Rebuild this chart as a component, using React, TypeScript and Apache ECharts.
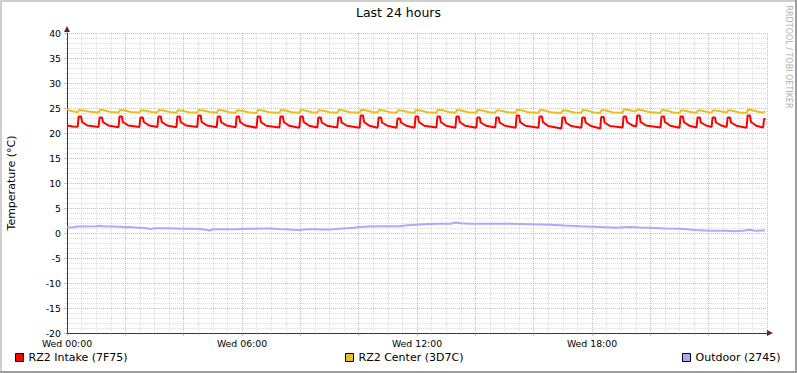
import React, { useEffect, useRef } from "react";
import * as echarts from "echarts";

// ---- data (x = minutes since Wed 00:00, y = °C) ----
const seriesNames = ["RZ2 Intake (7F75)", "RZ2 Center (3D7C)", "Outdoor (2745)"];
const seriesColors = ["#FF0000", "#E8C020", "#AAAAF8"];

const xTickMinutes = [0, 360, 720, 1080];
const xTickLabels = ["Wed 00:00", "Wed 06:00", "Wed 12:00", "Wed 18:00"];

const intakeData = [
  [0, 21.5], [12, 21.3],
  [22, 21.25], [24, 23.3], [29, 23.3], [31, 22.2], [42, 21.5],
  [65, 21.2], [67, 23.1], [72, 23.1], [74, 22.2], [85, 21.5],
  [106, 21.15], [108, 23.3], [113, 23.3], [115, 22.2], [126, 21.5],
  [149, 21.2], [151, 23.1], [156, 23.1], [158, 22.2], [169, 21.5],
  [186, 21.2], [188, 23.3], [193, 23.3], [195, 22.2], [206, 21.5],
  [225, 21.15], [227, 23.3], [232, 23.3], [234, 22.2], [245, 21.5],
  [268, 21.2], [270, 23.5], [275, 23.5], [277, 22.2], [288, 21.5],
  [308, 21.15], [310, 23.3], [315, 23.3], [317, 22.2], [328, 21.5],
  [347, 21.15], [349, 23.3], [354, 23.3], [356, 22.2], [367, 21.5],
  [390, 21.05], [392, 23.3], [397, 23.3], [399, 22.2], [410, 21.45],
  [437, 21.1], [439, 23.3], [444, 23.3], [446, 22.2], [457, 21.45],
  [478, 21.05], [480, 23.3], [485, 23.3], [487, 22.2], [498, 21.45],
  [515, 21.1], [517, 23.1], [522, 23.1], [524, 22.1], [535, 21.45],
  [556, 21.1], [558, 23.1], [563, 23.1], [565, 22.1], [576, 21.45],
  [602, 21.05], [604, 23.5], [609, 23.5], [611, 22.2], [622, 21.45],
  [639, 21.05], [641, 23.1], [646, 23.1], [648, 22.1], [659, 21.45],
  [678, 21.05], [680, 22.9], [685, 22.9], [687, 22.1], [698, 21.45],
  [715, 21.05], [717, 23.3], [722, 23.3], [724, 22.2], [735, 21.45],
  [760, 21.1], [762, 23.3], [767, 23.3], [769, 22.2], [780, 21.45],
  [799, 21.05], [801, 23.3], [806, 23.3], [808, 22.2], [819, 21.45],
  [842, 21.05], [844, 23.1], [849, 23.1], [851, 22.1], [862, 21.45],
  [881, 21.1], [883, 23.1], [888, 23.1], [890, 22.1], [901, 21.45],
  [923, 21.05], [925, 23.5], [930, 23.5], [932, 22.2], [943, 21.45],
  [970, 21.05], [972, 23.3], [977, 23.3], [979, 22.2], [990, 21.4],
  [1017, 20.9], [1019, 23.1], [1024, 23.1], [1026, 22.1], [1037, 21.4],
  [1058, 21.05], [1060, 23.1], [1065, 23.1], [1067, 22.1], [1078, 21.4],
  [1097, 20.9], [1099, 23.2], [1104, 23.2], [1106, 22.1], [1117, 21.4],
  [1143, 21.1], [1145, 23.3], [1150, 23.3], [1152, 22.2], [1163, 21.5],
  [1171, 21.3], [1173, 23.5], [1178, 23.5], [1180, 22.2], [1191, 21.5],
  [1221, 21.1], [1223, 23.3], [1228, 23.3], [1230, 22.2], [1241, 21.45],
  [1260, 21.05], [1262, 23.3], [1267, 23.3], [1269, 22.2], [1280, 21.45],
  [1295, 21.1], [1297, 23.1], [1302, 23.1], [1304, 22.1], [1315, 21.5],
  [1326, 21.2], [1328, 23.1], [1333, 23.1], [1335, 22.1], [1346, 21.5],
  [1357, 21.2], [1359, 23.1], [1364, 23.1], [1366, 22.1], [1377, 21.45],
  [1398, 21.05], [1400, 23.5], [1405, 23.5], [1407, 22.2], [1418, 21.45],
  [1432, 21.1], [1434, 22.8], [1437, 22.8],
];

const centerData = [
  [0, 24.8], [6, 24.45], [15, 24.3],
  [22, 24.15], [25, 24.6], [34, 24.5], [48, 24.25],
  [65, 24.1], [68, 24.65], [77, 24.5], [91, 24.2],
  [106, 24.1], [109, 24.6], [118, 24.5], [132, 24.2],
  [149, 24.1], [152, 24.55], [161, 24.45], [175, 24.2],
  [186, 24.1], [189, 24.6], [198, 24.5], [212, 24.2],
  [225, 24.05], [228, 24.55], [237, 24.45], [251, 24.15],
  [268, 24.05], [271, 24.6], [280, 24.5], [294, 24.2],
  [308, 24.05], [311, 24.6], [320, 24.5], [334, 24.15],
  [347, 24.05], [350, 24.55], [359, 24.45], [373, 24.15],
  [390, 24.0], [393, 24.6], [402, 24.5], [416, 24.15],
  [437, 24.05], [440, 24.6], [449, 24.5], [463, 24.15],
  [478, 24.05], [481, 24.6], [490, 24.5], [504, 24.15],
  [515, 24.05], [518, 24.55], [527, 24.45], [541, 24.15],
  [556, 24.05], [559, 24.6], [568, 24.5], [582, 24.15],
  [602, 24.05], [605, 24.65], [614, 24.55], [628, 24.2],
  [639, 24.1], [642, 24.6], [651, 24.5], [665, 24.15],
  [678, 24.05], [681, 24.55], [690, 24.45], [704, 24.15],
  [715, 24.05], [718, 24.6], [727, 24.5], [741, 24.15],
  [760, 24.05], [763, 24.65], [772, 24.55], [786, 24.2],
  [799, 24.05], [802, 24.6], [811, 24.5], [825, 24.15],
  [842, 24.05], [845, 24.6], [854, 24.5], [868, 24.15],
  [881, 24.05], [884, 24.55], [893, 24.45], [907, 24.15],
  [923, 24.05], [926, 24.65], [935, 24.55], [949, 24.15],
  [970, 24.05], [973, 24.6], [982, 24.5], [996, 24.15],
  [1017, 24.0], [1020, 24.55], [1029, 24.45], [1043, 24.1],
  [1058, 24.05], [1061, 24.6], [1070, 24.5], [1084, 24.1],
  [1097, 24.0], [1100, 24.6], [1109, 24.5], [1123, 24.1],
  [1143, 24.05], [1146, 24.75], [1155, 24.6], [1169, 24.3],
  [1174, 24.7], [1183, 24.55], [1197, 24.2],
  [1221, 24.0], [1224, 24.6], [1233, 24.5], [1247, 24.1],
  [1260, 24.0], [1263, 24.55], [1272, 24.45], [1286, 24.15],
  [1295, 24.05], [1298, 24.55], [1307, 24.45], [1321, 24.15],
  [1326, 24.1], [1329, 24.55], [1338, 24.45], [1352, 24.2],
  [1357, 24.1], [1360, 24.55], [1369, 24.45], [1383, 24.1],
  [1398, 24.0], [1401, 24.7], [1410, 24.55], [1424, 24.2],
  [1432, 24.1], [1436, 24.35],
];

const outdoorData = [
  [0, 1.1], [14, 1.15], [18, 1.3], [60, 1.35], [68, 1.45], [72, 1.35], [95, 1.3],
  [110, 1.25], [119, 1.15], [130, 1.2], [140, 1.1], [160, 1.0], [171, 0.8],
  [180, 0.95], [200, 0.95], [222, 0.9], [240, 0.85], [260, 0.85], [274, 0.8],
  [288, 0.6], [294, 0.5], [300, 0.75], [330, 0.75], [346, 0.75], [370, 0.85],
  [387, 0.85], [405, 0.9], [418, 0.9], [435, 0.8], [448, 0.75], [465, 0.65],
  [479, 0.6], [495, 0.75], [510, 0.75], [525, 0.7], [541, 0.7], [560, 0.85],
  [590, 1.05], [603, 1.2], [620, 1.3], [650, 1.35], [685, 1.35], [700, 1.55],
  [726, 1.7], [745, 1.8], [767, 1.85], [790, 1.85], [800, 2.1], [810, 1.95],
  [829, 1.85], [870, 1.85], [911, 1.85], [952, 1.75], [994, 1.65], [1024, 1.5],
  [1055, 1.35], [1096, 1.2], [1131, 1.05], [1145, 1.15], [1158, 1.2], [1178, 1.1],
  [1199, 1.05], [1230, 0.9], [1261, 0.85], [1292, 0.6], [1323, 0.45], [1354, 0.45],
  [1374, 0.35], [1390, 0.45], [1405, 0.65], [1415, 0.45], [1436, 0.5],
];

const FONT = "DejaVu Sans";
const MAJOR_GRID = "rgba(222,80,80,0.45)";
const MINOR_GRID = "rgba(140,140,140,0.3)";
const AXIS_COLOR = "#5a2a2a";

export default function App() {
  const ref = useRef<HTMLDivElement>(null);

  useEffect(() => {
    if (!ref.current) return;
    const chart = echarts.init(ref.current, undefined, { renderer: "svg" });
    const allData = [intakeData, centerData, outdoorData];
    const legendLefts = [15, 345, 682];

    const option: any = {
      animation: false,
      backgroundColor: "#ffffff",
      textStyle: { fontFamily: FONT },
      title: {
        text: "Last 24 hours",
        left: "center",
        top: 6,
        padding: 0,
        textStyle: { fontSize: 12.5, fontWeight: "normal", color: "#000", fontFamily: FONT },
      },
      grid: { left: 67, right: 30, top: 33, bottom: 40, containLabel: false, outerBoundsMode: "none" },
      legend: seriesNames.map((n, i) => ({
        data: [n],
        left: legendLefts[i],
        top: 352,
        padding: 0,
        icon: "rect",
        itemWidth: 8,
        itemHeight: 8,
        selectedMode: false,
        itemStyle: { borderColor: "#000", borderWidth: 1 },
        textStyle: { fontSize: 11, color: "#000", fontFamily: FONT },
      })),
      xAxis: {
        type: "value",
        min: 0,
        max: 1440,
        interval: 120,
        axisLine: {
          show: true,
          onZero: false,
          symbol: ["none", "triangle"],
          symbolSize: [6, 6],
          symbolOffset: [0, 3],
          lineStyle: { color: AXIS_COLOR, width: 1 },
        },
        axisTick: { show: true, length: 3, lineStyle: { color: MAJOR_GRID } },
        minorTick: { show: true, splitNumber: 4, length: 2, lineStyle: { color: MINOR_GRID } },
        splitLine: { show: true, lineStyle: { color: MAJOR_GRID, type: [1, 1], width: 1 } },
        minorSplitLine: { show: true, lineStyle: { color: MINOR_GRID, type: [1, 1], width: 1 } },
        axisLabel: {
          margin: 5.5,
          lineHeight: 9,
          fontSize: 9.33,
          color: "#000",
          fontFamily: FONT,
          showMaxLabel: false,
          formatter: (v: number) => {
            const i = xTickMinutes.indexOf(v);
            return i >= 0 ? xTickLabels[i] : "";
          },
        },
      },
      yAxis: {
        type: "value",
        min: -20,
        max: 40,
        interval: 5,
        name: "Temperature (°C)",
        nameLocation: "middle",
        nameGap: 50,
        nameTextStyle: { fontSize: 11, color: "#000", fontFamily: FONT },
        axisLine: {
          show: true,
          onZero: false,
          symbol: ["none", "triangle"],
          symbolSize: [6, 6],
          symbolOffset: [0, 4],
          lineStyle: { color: AXIS_COLOR, width: 1 },
        },
        axisTick: { show: true, length: 3, lineStyle: { color: MAJOR_GRID } },
        minorTick: { show: true, splitNumber: 5, length: 2, lineStyle: { color: MINOR_GRID } },
        splitLine: { show: true, lineStyle: { color: MAJOR_GRID, type: [1, 1], width: 1 } },
        minorSplitLine: { show: true, lineStyle: { color: MINOR_GRID, type: [1, 1], width: 1 } },
        axisLabel: {
          margin: 6,
          lineHeight: 7,
          padding: [0, 0, 2, 0],
          fontSize: 9.33,
          color: "#000",
          fontFamily: FONT,
        },
      },
      series: seriesNames.map((n, i) => ({
        name: n,
        type: "line",
        data: allData[i],
        showSymbol: false,
        symbol: "none",
        color: seriesColors[i],
        lineStyle: { color: seriesColors[i], width: 2 },
        emphasis: { disabled: true },
        z: 3 - i,
      })),
      graphic: [
        { type: "rect", shape: { x: 0, y: 0, width: 797, height: 2 }, style: { fill: "#CFCFCF" }, silent: true },
        { type: "rect", shape: { x: 0, y: 0, width: 2, height: 373 }, style: { fill: "#CFCFCF" }, silent: true },
        { type: "rect", shape: { x: 0, y: 371, width: 797, height: 2 }, style: { fill: "#9E9E9E" }, silent: true },
        { type: "rect", shape: { x: 795, y: 0, width: 2, height: 373 }, style: { fill: "#9E9E9E" }, silent: true },
        {
          type: "text",
          x: 788,
          y: 57,
          rotation: -Math.PI / 2,
          silent: true,
          style: {
            text: "RRDTOOL / TOBI OETIKER",
            fontSize: 8,
            fontFamily: FONT,
            fill: "#b0b0b0",
            align: "center",
            verticalAlign: "middle",
          },
        },
      ],
    };

    chart.setOption(option);
    return () => chart.dispose();
  }, []);

  return (
    <div
      ref={ref}
      style={{ position: "absolute", left: 0, top: 0, width: 797, height: 373 }}
    />
  );
}
